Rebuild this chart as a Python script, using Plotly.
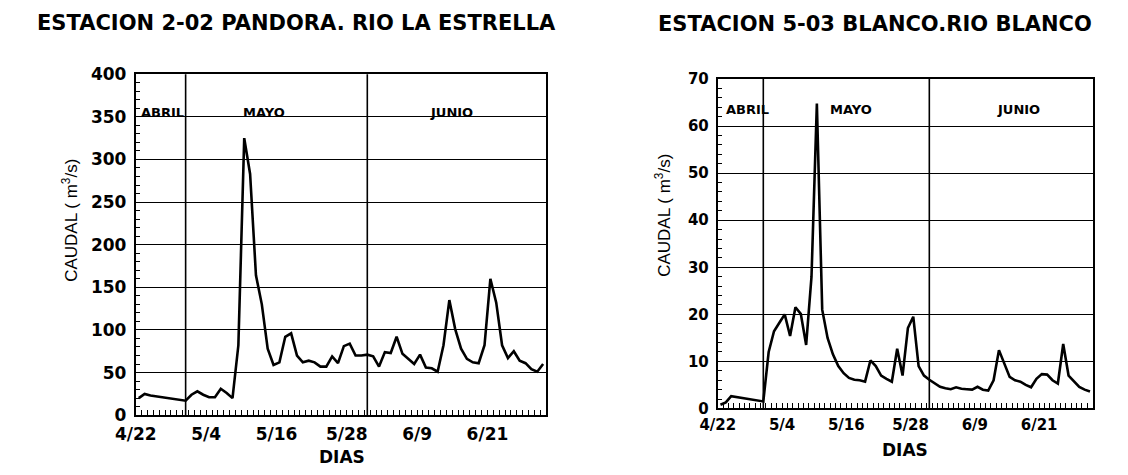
import numpy as np
import plotly.graph_objects as go

# Eje de tiempo: dias contados desde el 22 de abril
n_dias = 70
dias_etiqueta = [0, 12, 24, 36, 48, 60]
etiquetas_x = ["4/22", "5/4", "5/16", "5/28", "6/9", "6/21"]
inicio_mes = [9, 40]  # 1 de mayo y 1 de junio
meses = ["ABRIL", "MAYO", "JUNIO"]

# Caudal medio diario (m3/s), 22 de abril - 30 de junio
caudal_pandora = [
    20, 25, 23, 22, 21, 20, 19, 18, 17,
    24, 28, 24, 21, 21, 31, 26, 20, 82, 325, 283, 164, 130, 78, 59, 62, 92, 96,
    70, 62, 64, 62, 57, 57, 69, 61, 81, 84, 70, 70,
    71, 69, 57, 74, 73, 92, 72, 66, 60, 71, 56, 55, 51, 82, 135, 101, 78, 66,
    62, 61, 82, 160, 132, 82, 67, 75, 64, 61, 54, 51, 60,
]
caudal_blanco = [
    0.8, 1.3, 2.6, 2.4, 2.2, 2.0, 1.8, 1.6, 1.5,
    12.0, 16.4, 18.2, 20.0, 15.4, 21.5, 20.1, 13.5, 28.0, 64.8, 21.0, 15.0,
    11.5, 9.0, 7.5, 6.5, 6.1, 6.0, 5.7, 10.2, 9.0, 7.0, 6.3, 5.7, 12.7, 7.0,
    17.1, 19.5, 9.0, 7.0,
    6.1, 5.3, 4.6, 4.3, 4.1, 4.5, 4.2, 4.1, 4.0, 4.6, 4.0, 3.8, 6.0, 12.4,
    9.4, 6.7, 6.0, 5.7, 5.0, 4.5, 6.3, 7.3, 7.2, 6.0, 5.3, 13.7, 7.0, 5.7,
    4.6, 4.0, 3.6,
]

dias = np.arange(n_dias) + 0.5  # valor diario ubicado a mediodia

W, H = 1128, 475
NEGRO = "black"
FUENTE = "DejaVu Sans"


def px_x(p):
    return p / W


def px_y(p):
    return 1 - p / H


fig = go.Figure()

paneles = [
    dict(caudal=caudal_pandora, xa="x", ya="y", ymax=400, dy=50, dmin=10,
         dom_x=[px_x(117), px_x(535)], dom_y=[px_y(423), px_y(67)],
         fs=17, mes_x=[4.6, 21.8, 53.9], mes_y=355, mes_fs=13),
    dict(caudal=caudal_blanco, xa="x2", ya="y2", ymax=70, dy=10, dmin=2,
         dom_x=[px_x(710), px_x(1092)], dom_y=[px_y(416), px_y(72)],
         fs=15, mes_x=[5.5, 24.9, 56.1], mes_y=63.5, mes_fs=13),
]

for i, p in enumerate(paneles):
    sfx = "" if i == 0 else str(i + 1)
    fig.add_trace(go.Scatter(
        x=dias, y=p["caudal"], mode="lines", xaxis=p["xa"], yaxis=p["ya"],
        line=dict(color=NEGRO, width=2.6), showlegend=False,
    ))
    fig.update_layout(**{
        "xaxis" + sfx: dict(
            domain=p["dom_x"], anchor=p["ya"], range=[0, n_dias],
            tickvals=dias_etiqueta, ticktext=etiquetas_x,
            ticks="inside", ticklen=5, tickwidth=1.2, tickcolor=NEGRO,
            ticklabelstandoff=2,
            showgrid=False, zeroline=False,
            showline=True, linewidth=2, linecolor=NEGRO, mirror=True,
            minor=dict(dtick=1, ticks="inside", ticklen=5, tickwidth=1.2,
                       tickcolor=NEGRO, showgrid=False),
            tickfont=dict(family=FUENTE, size=p["fs"], color=NEGRO, weight="bold"),
        ),
        "yaxis" + sfx: dict(
            domain=p["dom_y"], anchor=p["xa"], range=[0, p["ymax"]],
            dtick=p["dy"], tick0=0,
            ticks="inside", ticklen=4, tickwidth=1.2, tickcolor=NEGRO,
            ticklabelstandoff=4,
            showgrid=True, gridcolor=NEGRO, gridwidth=1.4, zeroline=False,
            showline=True, linewidth=2, linecolor=NEGRO, mirror=True,
            minor=dict(dtick=p["dmin"], ticks="inside", ticklen=4, tickwidth=1.2,
                       tickcolor=NEGRO, showgrid=False),
            tickfont=dict(family=FUENTE, size=p["fs"], color=NEGRO, weight="bold"),
        ),
    })
    # separacion entre meses
    for d in inicio_mes:
        fig.add_shape(type="line", xref=p["xa"], yref=p["ya"] + " domain",
                      x0=d - 0.5, x1=d - 0.5, y0=0, y1=1,
                      line=dict(color=NEGRO, width=1.6), layer="above")
    for nombre, mx in zip(meses, p["mes_x"]):
        fig.add_annotation(text=nombre, x=mx, y=p["mes_y"], xref=p["xa"],
                           yref=p["ya"], showarrow=False,
                           font=dict(family=FUENTE, size=p["mes_fs"], color=NEGRO,
                                     weight="bold"))

# Titulos de estaciones
titulos = [("ESTACION 2-02 PANDORA. RIO LA ESTRELLA", 281, 14),
           ("ESTACION 5-03 BLANCO.RIO BLANCO", 870, 15)]
for txt, cx, cy in titulos:
    fig.add_annotation(text=txt, x=px_x(cx), y=px_y(cy), xref="paper", yref="paper",
                       showarrow=False, xanchor="center", yanchor="middle",
                       font=dict(family=FUENTE, size=21, color=NEGRO, weight="bold"))

# Rotulos de ejes
for cx, cy in [(327, 467), (901, 459)]:
    fig.add_annotation(text="DIAS", x=px_x(cx), y=px_y(cy), xref="paper", yref="paper",
                       showarrow=False, xanchor="center", yanchor="middle",
                       font=dict(family=FUENTE, size=17, color=NEGRO, weight="bold"))
for cx, cy in [(50, 220), (654, 214)]:
    fig.add_annotation(text="CAUDAL ( m<sup>3</sup>/s)", x=px_x(cx), y=px_y(cy),
                       xref="paper", yref="paper", textangle=-90,
                       showarrow=False, xanchor="center", yanchor="middle",
                       font=dict(family="Liberation Sans", size=17, color=NEGRO))

fig.update_layout(
    width=W, height=H, margin=dict(l=0, r=0, t=0, b=0),
    paper_bgcolor="white", plot_bgcolor="white", showlegend=False,
)

fig.write_html("out.html")
